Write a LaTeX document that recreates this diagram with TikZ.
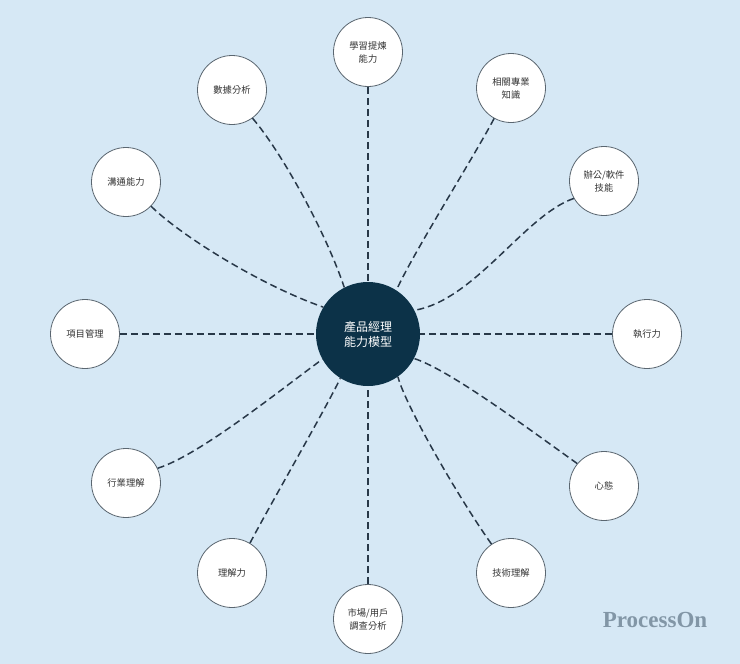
\documentclass[tikz,border=0pt]{standalone}
\usepackage{fontspec}
\setmainfont{Liberation Serif}
\newfontfamily\cjk{Noto Sans CJK TC}
\definecolor{bgblue}{RGB}{214,232,245}
\definecolor{navy}{RGB}{12,50,72}
\definecolor{linecol}{RGB}{40,56,72}
\definecolor{rimcol}{RGB}{90,102,112}
\definecolor{txtcol}{RGB}{51,51,51}
\definecolor{markcol}{RGB}{130,150,166}
\tikzset{
  hub/.style={circle, fill=navy, minimum size=104pt, inner sep=0pt, text=white, align=center,
    font=\cjk\fontsize{12}{15}\selectfont},
  skill/.style={circle, draw=rimcol, line width=0.8pt, fill=white, minimum size=69pt, inner sep=0pt,
    text=txtcol, align=center, font=\cjk\fontsize{9.3}{13}\selectfont},
  link/.style={draw=linecol, line width=1.5pt, dash pattern=on 7pt off 4pt},
  brand/.style={text=markcol, font=\fontsize{23}{23}\selectfont\bfseries}
}
\begin{document}
\begin{tikzpicture}[x=1pt,y=-1pt]
\fill[bgblue] (0,0) rectangle (740,664);
\useasboundingbox (0,0) rectangle (740,664);

\node[hub] (c) at (368,334) {產品經理\\能力模型};

\node[skill] (s1) at (368,52) {學習提煉\\能力};
\node[skill] (s2) at (511,88) {相關專業\\知識};
\node[skill] (s3) at (604,181) {辦公/軟件\\技能};
\node[skill] (s4) at (647,334) {執行力};
\node[skill] (s5) at (604,486) {心態};
\node[skill] (s6) at (511,573) {技術理解};
\node[skill] (s7) at (368,619) {市場/用戶\\調查分析};
\node[skill] (s8) at (232,573) {理解力};
\node[skill] (s9) at (126,483) {行業理解};
\node[skill] (s10) at (85,334) {項目管理};
\node[skill] (s11) at (126,182) {溝通能力};
\node[skill] (s12) at (232,90) {數據分析};

\node[brand] (wm) at (655,620) {ProcessOn};

\draw[link] (s1.south) -- (c.north);
\draw[link] (s2.-119) .. controls (475,155) and (412,255) .. (c.57);
\draw[link] (s3.-150) .. controls (525,215) and (475,300) .. (c.27);
\draw[link] (s4.west) -- (c.east);
\draw[link] (s5.140) .. controls (530,430) and (450,370) .. (c.-28);
\draw[link] (s6.124) .. controls (460,500) and (405,405) .. (c.-55);
\draw[link] (s7.north) -- (c.south);
\draw[link] (s8.59) .. controls (270,505) and (325,410) .. (c.-122);
\draw[link] (s9.25) .. controls (200,455) and (280,390) .. (c.-151);
\draw[link] (s10.east) -- (c.west);
\draw[link] (s11.-44) .. controls (180,235) and (260,285) .. (c.149);
\draw[link] (s12.-54) .. controls (280,150) and (325,230) .. (c.117);
\end{tikzpicture}
\end{document}
